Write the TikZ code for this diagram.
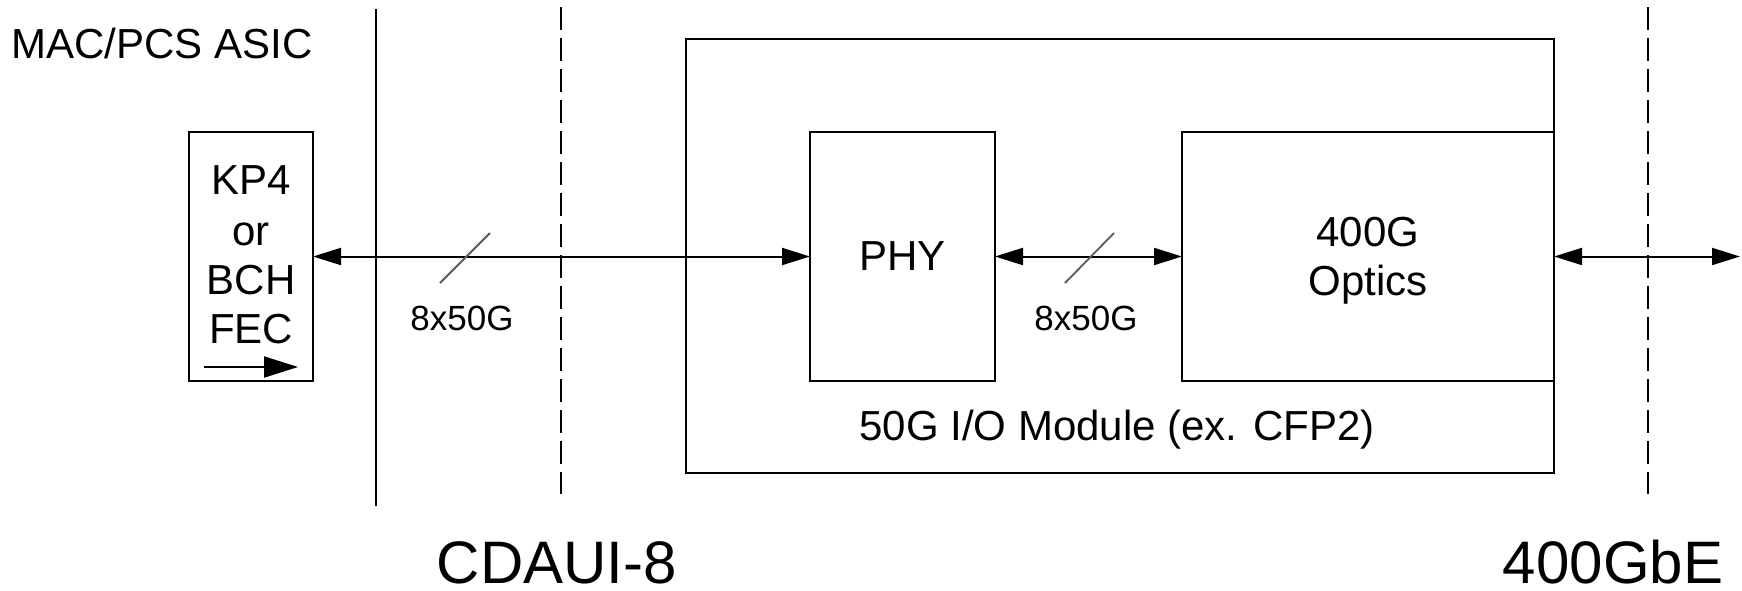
\documentclass[tikz,border=0pt]{standalone}
\usepackage{fontspec}
\setmainfont{Liberation Sans}
\usetikzlibrary{arrows.meta}
\begin{document}
\begin{tikzpicture}[x=0.5pt,y=-0.5pt,
  box/.style={draw,line width=1pt,inner sep=0pt,outer sep=0pt},
  txt/.style={inner sep=0pt,anchor=base,font=\fontsize{21pt}{25pt}\selectfont},
  small/.style={inner sep=0pt,anchor=base,font=\fontsize{17.5pt}{21pt}\selectfont},
  big/.style={inner sep=0pt,anchor=base,font=\fontsize{30pt}{36pt}\selectfont},
  bus/.style={line width=1pt,{Triangle[length=14pt,width=8.5pt]}-{Triangle[length=14pt,width=8.5pt]}},
  slash/.style={draw=black!65,line width=0.9pt},
  solidline/.style={line width=1pt},
  dashline/.style={line width=1pt,dash pattern=on 11.5pt off 4pt}]
\useasboundingbox (0,0) rectangle (1742,590);

% boundary lines
\coordinate (s1) at (376,9);   \coordinate (s2) at (376,506);
\coordinate (d1a) at (561,7);  \coordinate (d1b) at (561,494);
\coordinate (d2a) at (1648,7); \coordinate (d2b) at (1648,494);
\draw[solidline] (s1) -- (s2);
\draw[dashline] (d1a) -- (d1b);
\draw[dashline] (d2a) -- (d2b);

% labels
\node[txt,anchor=base west] (asic) at (11,58) {MAC/PCS ASIC};
\node[big] (cdaui) at (557,583) {CDAUI-8};
\node[big] (gbe) at (1613,583) {400GbE};

% module box
\node[box,minimum width=434pt,minimum height=217pt] (mod) at (1120,256) {};
\node[txt] (modlbl) at (1117,440) {50G I/O Module (ex. CFP2)};

% FEC box
\node[box,fill=white,minimum width=62pt,minimum height=124.5pt] (fec) at (251,256.5) {};
\node[txt] (f1) at (251,194) {KP4};
\node[txt] (f2) at (251,245) {or};
\node[txt] (f3) at (251,294) {BCH};
\node[txt] (f4) at (251,343) {FEC};
\coordinate (fa1) at (204,367);
\coordinate (fa2) at (298,367);
\draw[line width=1pt,-{Triangle[length=17pt,width=10.5pt]}] (fa1) -- (fa2);

% PHY box
\node[box,fill=white,minimum width=92.5pt,minimum height=124.5pt] (phy) at (902.5,256.5) {};
\node[txt] (phylbl) at (902.5,270) {PHY};

% Optics box
\node[box,fill=white,minimum width=186pt,minimum height=124.5pt] (opt) at (1368,256.5) {};
\node[txt] (o1) at (1368,246) {400G};
\node[txt] (o2) at (1368,295) {Optics};

% connectors
\coordinate (rend) at (1740,256.5);
\draw[bus] (fec.east) -- (phy.west);
\draw[bus] (phy.east) -- (opt.west);
\draw[bus] (opt.east) -- (rend);

% bus width slashes
\coordinate (sa1) at (440,283); \coordinate (sa2) at (490,233);
\coordinate (sb1) at (1065,283); \coordinate (sb2) at (1114,233);
\draw[slash] (sa1) -- (sa2);
\draw[slash] (sb1) -- (sb2);
\node[small] (w1) at (462,330) {8x50G};
\node[small] (w2) at (1086,330) {8x50G};
\end{tikzpicture}
\end{document}
